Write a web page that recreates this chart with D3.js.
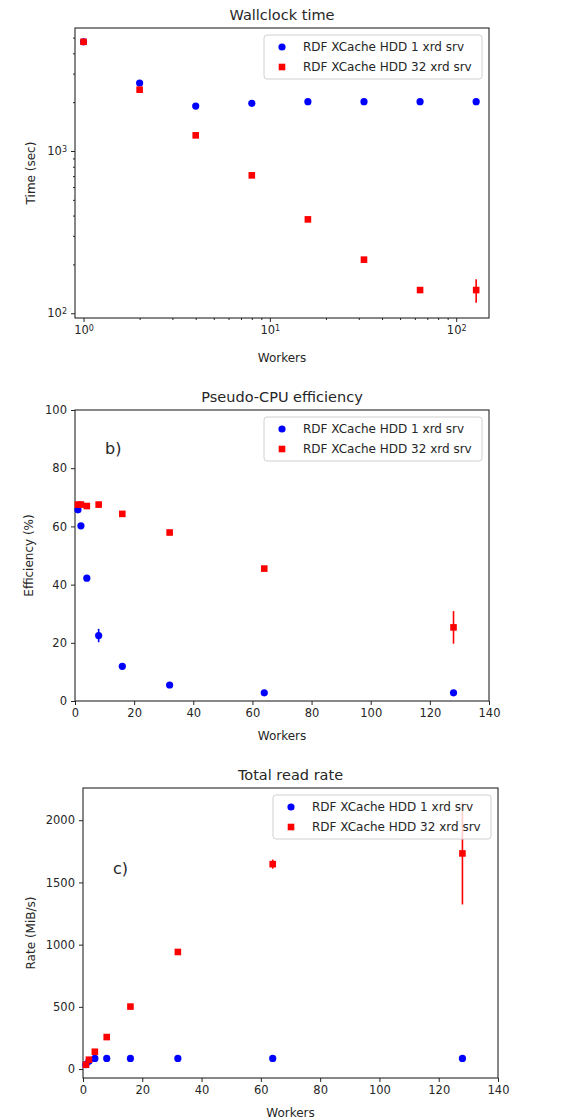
<!DOCTYPE html>
<html><head><meta charset="utf-8">
<script src="https://cdn.jsdelivr.net/npm/d3@7"></script>
<style>body{margin:0;background:#fff}svg{display:block;font-family:"DejaVu Sans",sans-serif}</style>
</head><body>
<svg id="c" width="565" height="1119"></svg>
<script>
const workers = [1, 2, 4, 8, 16, 32, 64, 128];
const seriesNames = ["RDF XCache HDD 1 xrd srv", "RDF XCache HDD 32 xrd srv"];
// Wallclock time (sec)
const time1 = [4710, 2625, 1892, 1968, 2013, 2013, 2013, 2013];
const time1Err = [0, 0, 0, 0, 0, 0, 0, 0];
const time32 = [4710, 2388, 1249, 708, 379, 214, 139, 139];
const time32Err = [0, 0, 0, 0, 0, 0, 0, 23];
// Efficiency (%)
const eff1 = [65.7, 60.2, 42.2, 22.5, 11.9, 5.5, 2.8, 2.8];
const eff1Err = [0, 0, 0, 2.3, 0, 0, 0, 0];
const eff32 = [67.5, 67.5, 67.0, 67.5, 64.3, 57.9, 45.5, 25.3];
const eff32Err = [0, 0, 0, 1.0, 0, 0, 0, 5.6];
// Rate (MiB/s)
const rate1 = [35, 63, 85, 85, 85, 85, 85, 85];
const rate1Err = [0, 0, 0, 0, 0, 0, 0, 0];
const rate32 = [35, 75, 139, 257, 502, 941, 1647, 1733];
const rate32Err = [0, 0, 0, 0, 0, 0, 37, 410];
const linTicksX = [0, 20, 40, 60, 80, 100, 120, 140];
const effTicks = [0, 20, 40, 60, 80, 100];
const rateTicks = [0, 500, 1000, 1500, 2000];

const svg = d3.select("#c");
const TXT = "#262626";

function panel(o) {
  const g = svg.append("g");
  const x = o.xs, y = o.ys;
  const L = o.box[0], R = o.box[1], T = o.box[2], B = o.box[3];
  // title
  g.append("text").attr("x", (L + R) / 2).attr("y", T - 8).attr("text-anchor", "middle")
    .attr("font-size", 14.5).attr("fill", TXT).text(o.title);
  // x axis
  const xa = g.append("g").attr("transform", `translate(0,${B})`)
    .call(d3.axisBottom(x).tickValues(o.xTicks).tickSize(4).tickPadding(4).tickFormat(o.xFmt || d3.format("d")));
  const ya = g.append("g").attr("transform", `translate(${L},0)`)
    .call(d3.axisLeft(y).tickValues(o.yTicks).tickSize(4).tickPadding(4).tickFormat(o.yFmt || d3.format("d")));
  [xa, ya].forEach(a => {
    a.select(".domain").remove();
    a.selectAll("line").attr("stroke", TXT).attr("stroke-width", 1);
    a.selectAll("text").attr("font-size", 11.5).attr("fill", TXT).attr("font-family", "DejaVu Sans");
  });
  if (o.xMinor) {
    g.append("g").attr("transform", `translate(0,${B})`)
      .call(d3.axisBottom(x).tickValues(o.xMinor).tickSize(2).tickFormat(""))
      .call(a => { a.select(".domain").remove(); a.selectAll("line").attr("stroke", TXT); });
  }
  if (o.yMinor) {
    g.append("g").attr("transform", `translate(${L},0)`)
      .call(d3.axisLeft(y).tickValues(o.yMinor).tickSize(2).tickFormat(""))
      .call(a => { a.select(".domain").remove(); a.selectAll("line").attr("stroke", TXT); });
  }
  if (o.logLabels) {
    [xa, ya].forEach((a, i) => {
      a.selectAll(".tick text").each(function(d) {
        const t = d3.select(this); t.text("");
        t.append("tspan").text("10");
        t.append("tspan").attr("dy", "-0.45em").attr("font-size", 8).text(Math.round(Math.log10(d)));
      });
    });
  }
  // spines
  g.append("rect").attr("x", L).attr("y", T).attr("width", R - L).attr("height", B - T)
    .attr("fill", "none").attr("stroke", TXT).attr("stroke-width", 1.1);
  // labels
  g.append("text").attr("x", (L + R) / 2).attr("y", o.xLabelY).attr("text-anchor", "middle")
    .attr("font-size", 12).attr("fill", TXT).text("Workers");
  g.append("text").attr("transform", `translate(${o.yLabelX},${(T + B) / 2}) rotate(-90)`)
    .attr("text-anchor", "middle").attr("font-size", 12).attr("fill", TXT).text(o.yLabel);
  if (o.tag) {
    g.append("text").attr("x", o.tag[1]).attr("y", o.tag[2]).attr("font-size", 16).attr("fill", TXT).text(o.tag[0]);
  }
  const clip = g.append("g");
  // series
  const cols = ["#0000ff", "#ff0000"];
  o.series.forEach((s, si) => {
    const pts = workers.map((w, i) => ({ w, v: s.v[i], e: s.e[i] }));
    clip.selectAll(null).data(pts.filter(p => p.e > 0)).join("line")
      .attr("x1", p => x(p.w)).attr("x2", p => x(p.w))
      .attr("y1", p => y(p.v - p.e)).attr("y2", p => y(p.v + p.e))
      .attr("stroke", cols[si]).attr("stroke-width", 1.6);
    if (si === 0) {
      clip.selectAll(null).data(pts).join("circle")
        .attr("cx", p => x(p.w)).attr("cy", p => y(p.v)).attr("r", 3.6).attr("fill", cols[si]);
    } else {
      clip.selectAll(null).data(pts).join("rect")
        .attr("x", p => x(p.w) - 3.3).attr("y", p => y(p.v) - 3.3).attr("width", 6.6).attr("height", 6.6)
        .attr("fill", cols[si]);
    }
  });
  // legend
  const lw = 218, lh = 44, lx = R - 7 - lw, ly = T + 7;
  const lg = g.append("g");
  lg.append("rect").attr("x", lx).attr("y", ly).attr("width", lw).attr("height", lh).attr("rx", 3)
    .attr("fill", "#fff").attr("fill-opacity", 0.8).attr("stroke", "#d0d0d0").attr("stroke-width", 1);
  seriesNames.forEach((n, i) => {
    const cy = ly + 12 + i * 20;
    if (i === 0) lg.append("circle").attr("cx", lx + 18).attr("cy", cy).attr("r", 3.6).attr("fill", cols[0]);
    else lg.append("rect").attr("x", lx + 18 - 3.3).attr("y", cy - 3.3).attr("width", 6.6).attr("height", 6.6).attr("fill", cols[1]);
    lg.append("text").attr("x", lx + 39).attr("y", cy + 4.3).attr("font-size", 12).attr("fill", TXT).text(n);
  });
}

// Panel 1: log-log
const minorX = [2,3,4,5,6,7,8,9,20,30,40,50,60,70,80,90];
const minorY = [200,300,400,500,600,700,800,900,2000,3000,4000,5000];
panel({
  title: "Wallclock time", box: [75, 489, 28, 318],
  xs: d3.scaleLog().domain([0.9, 150]).range([75, 489]),
  ys: d3.scaleLog().domain([93.5, 5730]).range([318, 28]),
  xTicks: [1, 10, 100], yTicks: [100, 1000], xMinor: minorX, yMinor: minorY, logLabels: true,
  yLabel: "Time (sec)", yLabelX: 35, xLabelY: 362,
  series: [{ v: time1, e: time1Err }, { v: time32, e: time32Err }]
});
// Panel 2
panel({
  title: "Pseudo-CPU efficiency", box: [75, 489, 410, 701],
  xs: d3.scaleLinear().domain([0, 140]).range([75, 489]),
  ys: d3.scaleLinear().domain([0, 100]).range([701, 410]),
  xTicks: linTicksX, yTicks: effTicks,
  yLabel: "Efficiency (%)", yLabelX: 33, xLabelY: 740, tag: ["b)", 105, 454],
  series: [{ v: eff1, e: eff1Err }, { v: eff32, e: eff32Err }]
});
// Panel 3
panel({
  title: "Total read rate", box: [83, 498, 788, 1078],
  xs: d3.scaleLinear().domain([0, 140]).range([83, 498]),
  ys: d3.scaleLinear().domain([-72, 2259]).range([1078, 788]),
  xTicks: linTicksX, yTicks: rateTicks,
  yLabel: "Rate (MiB/s)", yLabelX: 35, xLabelY: 1117, tag: ["c)", 113, 874],
  series: [{ v: rate1, e: rate1Err }, { v: rate32, e: rate32Err }]
});
</script>
</body></html>
